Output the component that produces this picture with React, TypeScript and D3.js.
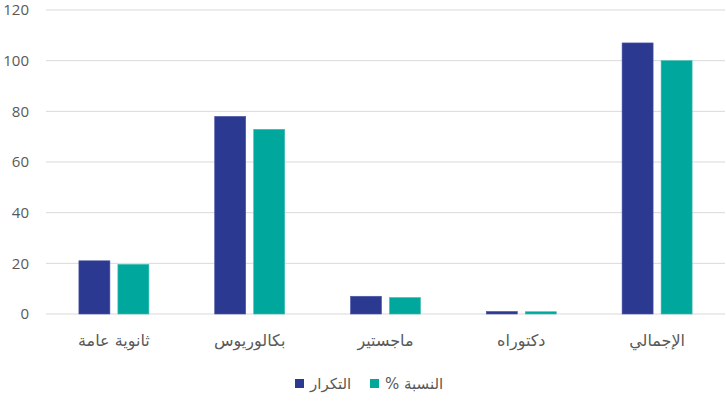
import React from "react";
import * as d3 from "d3";

const categories = ["ثانوية عامة", "بكالوريوس", "ماجستير", "دكتوراه", "الإجمالي"];
const seriesNames = ["التكرار", "النسبة %"];
const freq = [21, 78, 7, 1, 107];
const pct = [19.6, 72.9, 6.5, 0.9, 100];
const yTicks = [0, 20, 40, 60, 80, 100, 120];
const colors = ["#2B3990", "#00A79D"];

export default function App() {
  const W = 726, H = 405;
  const left = 46, right = 725, top = 10, bottom = 314;
  const x = d3.scaleBand<string>().domain(categories).range([left, right]).paddingInner(0).paddingOuter(0);
  const y = d3.scaleLinear().domain([0, 120]).range([bottom, top]);
  const barW = 31, gap = 8;
  const series = [freq, pct];
  const txt = "#595959";
  const arFont = "'DejaVu Sans', 'Noto Sans', sans-serif";
  return (
    <svg width={W} height={H} style={{ position: "absolute", left: 0, top: 0, background: "#fff" }}>
      {yTicks.map((t) => (
        <g key={t}>
          <line x1={left} x2={right} y1={y(t)} y2={y(t)} stroke="#d9d9d9" strokeWidth={1} />
          <text x={29} y={y(t)} dy="0.35em" textAnchor="end" fill={txt} fontSize={15} fontFamily="'Open Sans', sans-serif">{t}</text>
        </g>
      ))}
      {categories.map((c, i) => {
        const cx = (x(c) as number) + x.bandwidth() / 2;
        return (
          <g key={c}>
            {series.map((s, k) => {
              const bx = cx - gap / 2 - barW + k * (barW + gap);
              return (
                <rect key={k} x={bx} y={y(s[i])} width={barW} height={y(0) - y(s[i])} fill={colors[k]} stroke={k === 0 ? "#4a56a6" : "#3dbdb4"} strokeWidth={0.6} />
              );
            })}
            <text x={cx} y={346} textAnchor="middle" fill={txt} fontSize={16} fontFamily={arFont} direction="rtl">{c}</text>
          </g>
        );
      })}
      <g>
        <rect x={295} y={379} width={9} height={9} fill={colors[0]} />
        <text x={310} y={389} fill={txt} fontSize={15} fontFamily={arFont} direction="rtl" textAnchor="end">{seriesNames[0]}</text>
        <rect x={370} y={379} width={9} height={9} fill={colors[1]} />
        <text x={385} y={389} fill={txt} fontSize={15} fontFamily={arFont} direction="rtl" textAnchor="end">{seriesNames[1]}</text>
      </g>
    </svg>
  );
}
